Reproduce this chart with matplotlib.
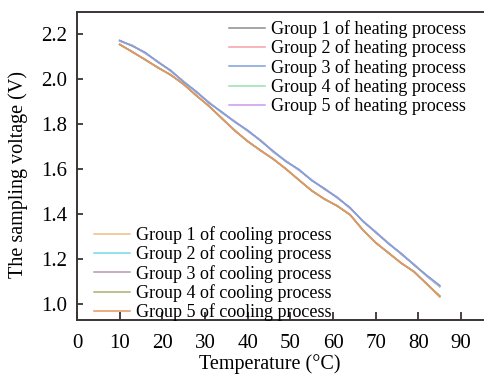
import matplotlib.pyplot as plt

plt.rcParams['font.family'] = ['Liberation Serif', 'DejaVu Serif']

# temperature grid (deg C)
temp = [10, 13, 16, 19, 22, 25, 28, 31, 34, 37, 40, 43, 46, 49, 52, 55,
        58, 61, 64, 67, 70, 73, 76, 79, 82, 85]

# heating process, sampling voltage (V)
heat1 = [2.172, 2.150, 2.118, 2.078, 2.038, 1.990, 1.944, 1.896, 1.853, 1.812, 1.772, 1.729, 1.679,
         1.636, 1.598, 1.552, 1.513, 1.475, 1.428, 1.370, 1.320, 1.271, 1.224, 1.176, 1.126, 1.078]
heat2 = [2.170, 2.152, 2.115, 2.080, 2.035, 1.992, 1.941, 1.898, 1.850, 1.814, 1.769, 1.731, 1.676,
         1.638, 1.595, 1.554, 1.510, 1.477, 1.425, 1.372, 1.317, 1.273, 1.221, 1.178, 1.123, 1.080]
heat3 = [2.174, 2.148, 2.120, 2.076, 2.040, 1.988, 1.946, 1.894, 1.855, 1.810, 1.774, 1.727, 1.681,
         1.634, 1.600, 1.550, 1.515, 1.473, 1.430, 1.368, 1.322, 1.269, 1.226, 1.174, 1.128, 1.084]
heat4 = [2.171, 2.151, 2.117, 2.079, 2.037, 1.991, 1.943, 1.897, 1.852, 1.813, 1.771, 1.730, 1.678,
         1.637, 1.597, 1.553, 1.512, 1.476, 1.427, 1.371, 1.319, 1.272, 1.223, 1.177, 1.125, 1.079]
heat5 = [2.173, 2.149, 2.119, 2.077, 2.039, 1.989, 1.945, 1.895, 1.854, 1.811, 1.773, 1.728, 1.680,
         1.635, 1.599, 1.551, 1.514, 1.474, 1.429, 1.369, 1.321, 1.270, 1.225, 1.175, 1.127, 1.082]

# cooling process, sampling voltage (V)
cool1 = [2.156, 2.122, 2.088, 2.052, 2.020, 1.978, 1.928, 1.880, 1.826, 1.772, 1.725, 1.684, 1.646,
         1.601, 1.553, 1.505, 1.468, 1.437, 1.398, 1.330, 1.274, 1.228, 1.183, 1.144, 1.090, 1.035]
cool2 = [2.154, 2.124, 2.086, 2.054, 2.018, 1.980, 1.926, 1.882, 1.824, 1.774, 1.723, 1.686, 1.644,
         1.603, 1.551, 1.507, 1.466, 1.439, 1.396, 1.332, 1.272, 1.230, 1.181, 1.146, 1.088, 1.037]
cool3 = [2.157, 2.121, 2.089, 2.051, 2.021, 1.977, 1.929, 1.879, 1.827, 1.771, 1.726, 1.683, 1.647,
         1.600, 1.554, 1.504, 1.469, 1.436, 1.399, 1.329, 1.275, 1.227, 1.184, 1.143, 1.091, 1.034]
cool4 = [2.155, 2.123, 2.087, 2.053, 2.019, 1.979, 1.927, 1.881, 1.825, 1.773, 1.724, 1.685, 1.645,
         1.602, 1.552, 1.506, 1.467, 1.438, 1.397, 1.331, 1.273, 1.229, 1.182, 1.145, 1.089, 1.038]
cool5 = [2.156, 2.122, 2.088, 2.052, 2.020, 1.978, 1.928, 1.880, 1.826, 1.772, 1.725, 1.684, 1.646,
         1.601, 1.553, 1.505, 1.468, 1.437, 1.398, 1.330, 1.274, 1.228, 1.183, 1.144, 1.090, 1.033]

heat_colors = ['#8c8c8c', '#f4a0a8', '#7fa0dc', '#98e0b0', '#cc99ee']
cool_colors = ['#f0c080', '#70dde8', '#b898b0', '#b0b070', '#e8945a']
heat_z = [2, 2, 4, 2, 3]
cool_z = [2, 2, 2, 3, 4]

fig = plt.figure(figsize=(4.84, 3.74), dpi=100)
ax = fig.add_axes([77/484, 1 - 320/374, 1 - 77/484 + 0.01, (320 - 12)/374])

heat_lines = []
for i, v in enumerate([heat1, heat2, heat3, heat4, heat5]):
    ln, = ax.plot(temp, v, color=heat_colors[i], lw=1.1, zorder=heat_z[i],
                  label='Group {:d} of heating process'.format(i + 1))
    heat_lines.append(ln)
cool_lines = []
for i, v in enumerate([cool1, cool2, cool3, cool4, cool5]):
    ln, = ax.plot(temp, v, color=cool_colors[i], lw=1.1, zorder=cool_z[i],
                  label='Group {:d} of cooling process'.format(i + 1))
    cool_lines.append(ln)

ax.set_xlim(0, 96.5)
ax.set_ylim(0.93, 2.30)
ax.set_xticks(range(0, 91, 10))
ax.set_yticks([1.0, 1.2, 1.4, 1.6, 1.8, 2.0, 2.2])
ax.set_yticklabels(['1.0', '1.2', '1.4', '1.6', '1.8', '2.0', '2.2'])

spine_col = '#3a3532'
for s in ['left', 'bottom', 'top']:
    ax.spines[s].set_color(spine_col)
    ax.spines[s].set_linewidth(1.4)
ax.spines['right'].set_visible(False)
ax.tick_params(axis='x', direction='in', length=6, width=1.3, color=spine_col,
               labelsize=15, pad=10)
ax.tick_params(axis='y', direction='in', length=4.5, width=1.3, color=spine_col,
               labelsize=15, pad=7)

ax.set_xlabel('Temperature (°C)', fontsize=14.5)
ax.xaxis.set_label_coords(270/484, 1 - 354/374, transform=fig.transFigure)
ax.set_ylabel('The sampling voltage (V)', fontsize=14.5)
ax.yaxis.set_label_coords(28/484, 1 - 175/374, transform=fig.transFigure)

leg_kw = dict(frameon=False, fontsize=13, handlelength=2.0, handletextpad=0.35,
              labelspacing=0.08, borderpad=0, borderaxespad=0, loc='upper left')
leg1 = ax.legend(handles=heat_lines, bbox_to_anchor=(229/484, 1 - 20/374),
                 bbox_transform=fig.transFigure, **leg_kw)
ax.add_artist(leg1)
ax.legend(handles=cool_lines, bbox_to_anchor=(94/484, 1 - 226/374),
          bbox_transform=fig.transFigure, **leg_kw)

fig.savefig('out.png', dpi=100)
